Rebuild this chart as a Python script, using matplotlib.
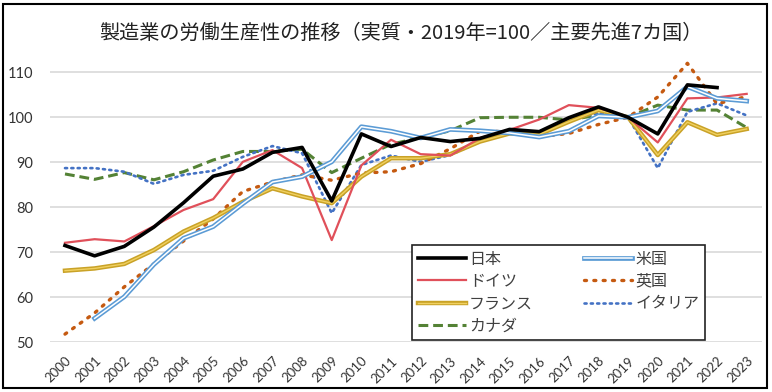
import numpy as np
import matplotlib
matplotlib.use("Agg")
import matplotlib.pyplot as plt
import matplotlib.lines as mlines
from matplotlib.legend_handler import HandlerTuple
from matplotlib.patches import Rectangle

nan = np.nan

# data (2019 = 100)
years = [str(y) for y in range(2000, 2024)]
japan = [71.5, 69.2, 71.3, 75.6, 81.0, 86.9, 88.5, 92.2, 93.3, 81.4, 96.3, 93.5,
         95.5, 94.6, 95.3, 97.3, 96.8, 99.9, 102.3, 100.0, 96.3, 107.2, 106.6, nan]
usa = [nan, 55.3, 60.1, 67.3, 73.1, 75.7, 80.8, 85.6, 86.8, 90.1, 97.9, 96.9,
       95.4, 97.3, 97.0, 96.5, 95.6, 96.9, 100.3, 100.0, 101.4, 106.8, 104.2, 103.6]
germany = [72.1, 72.9, 72.4, 75.8, 79.4, 81.8, 90.1, 92.7, 88.7, 72.7, 89.3, 95.0,
           91.8, 91.5, 95.4, 97.2, 99.5, 102.7, 102.1, 100.0, 94.4, 104.2, 104.4, 105.2]
uk = [51.8, 56.5, 62.3, 67.4, 72.5, 77.4, 83.5, 85.6, 87.2, 86.0, 87.6, 87.9,
      89.7, 93.0, 96.9, 96.8, 95.7, 96.4, 98.4, 100.0, 104.5, 112.0, 103.0, 104.6]
france = [65.9, 66.4, 67.4, 70.5, 74.6, 77.6, 81.2, 84.2, 82.4, 80.9, 86.8, 90.9,
          90.9, 91.8, 94.6, 96.4, 96.2, 99.0, 101.6, 100.0, 91.6, 98.9, 96.1, 97.4]
italy = [88.7, 88.7, 87.9, 85.2, 87.2, 88.1, 91.2, 93.6, 92.0, 78.7, 89.4, 91.5,
         90.1, 91.6, 94.6, 96.8, 96.8, 99.6, 100.9, 100.0, 88.7, 101.2, 103.1, 100.4]
canada = [87.4, 86.2, 87.7, 86.1, 87.9, 90.5, 92.4, 92.4, 92.9, 87.7, 90.9, 94.0,
          95.5, 97.0, 99.9, 100.0, 100.0, 99.4, 100.5, 100.0, 102.7, 101.6, 101.6, 97.7]

jp_font = ["Noto Sans CJK JP", "DejaVu Sans"]
plt.rcParams["font.family"] = jp_font

fig = plt.figure(figsize=(7.72, 3.92), dpi=100)
ax = fig.add_axes([0.065, 0.127, 0.9214, 0.746])

x = np.arange(len(years))

# grid
ax.set_ylim(50, 115)
ax.set_xlim(-0.5, len(years) - 0.5)
ax.set_yticks(range(50, 111, 10))
ax.yaxis.grid(True, color="#d9d9d9", lw=1.2)
ax.set_axisbelow(True)
for s in ax.spines.values():
    s.set_visible(False)

# lines (draw order roughly as in excel)
h_ca, = ax.plot(x, canada, color="#548235", lw=2.2, ls=(0, (3.2, 1.6)), label="カナダ")
h_it, = ax.plot(x, italy, color="#4472c4", lw=1.9, ls=(0, (0.8, 1.6)),
                dash_capstyle="round", label="イタリア")
h_uk, = ax.plot(x, uk, color="#c55a11", lw=2.4, ls=(0, (0.6, 2.2)),
                dash_capstyle="round", label="英国")
h_fr, = ax.plot(x, france, color="#c9a227", lw=3.2, label="フランス")
ax.plot(x, france, color="#f0d060", lw=1.0)
h_de, = ax.plot(x, germany, color="#e0505a", lw=1.6, label="ドイツ")
h_us, = ax.plot(x, usa, color="#5b9bd5", lw=3.4, label="米国")
ax.plot(x, usa, color="white", lw=1.1)
h_jp, = ax.plot(x, japan, color="black", lw=2.6, label="日本")

# legend handles for double lines (overlaid)
us_w = mlines.Line2D([], [], color="white", lw=1.1)
fr_w = mlines.Line2D([], [], color="#f0d060", lw=1.0)

handles = [h_jp, h_de, (h_fr, fr_w), h_ca, (h_us, us_w), h_uk, h_it]
labels = ["日本", "ドイツ", "フランス", "カナダ", "米国", "英国", "イタリア"]
leg = ax.legend(handles, labels, ncol=2, loc="upper left",
                bbox_to_anchor=(0.534, 0.375), bbox_transform=fig.transFigure,
                borderaxespad=0, fancybox=False, framealpha=1,
                edgecolor="#222222", fontsize=11.5, handlelength=3.0,
                handletextpad=0.2, columnspacing=3.2, labelspacing=0.33,
                borderpad=0.35,
                handler_map={tuple: HandlerTuple(ndivide=1, pad=0)})
leg.get_frame().set_linewidth(1.2)
for t in leg.get_texts():
    t.set_color("#404040")

# ticks
ax.set_xticks(x)
ax.set_xticklabels(years, rotation=45, ha="right", rotation_mode="anchor",
                   fontsize=9.5, color="#333333", family=["Lato", "DejaVu Sans"])
ax.tick_params(axis="x", length=0, pad=9)
ax.tick_params(axis="y", length=0, pad=12, labelsize=10.5, labelcolor="#333333")
for t in ax.get_yticklabels():
    t.set_family(["Lato", "DejaVu Sans"])

fig.text(0.52, 0.915, "製造業の労働生産性の推移（実質・2019年=100／主要先進7カ国）",
         ha="center", va="center", fontsize=14.5, color="#222222")

# frame around the figure
fig.patches.append(Rectangle((0.004, 0.01), 0.99, 0.98, transform=fig.transFigure,
                             fill=False, edgecolor="black", lw=1.5))

fig.savefig("out.png", dpi=100)
